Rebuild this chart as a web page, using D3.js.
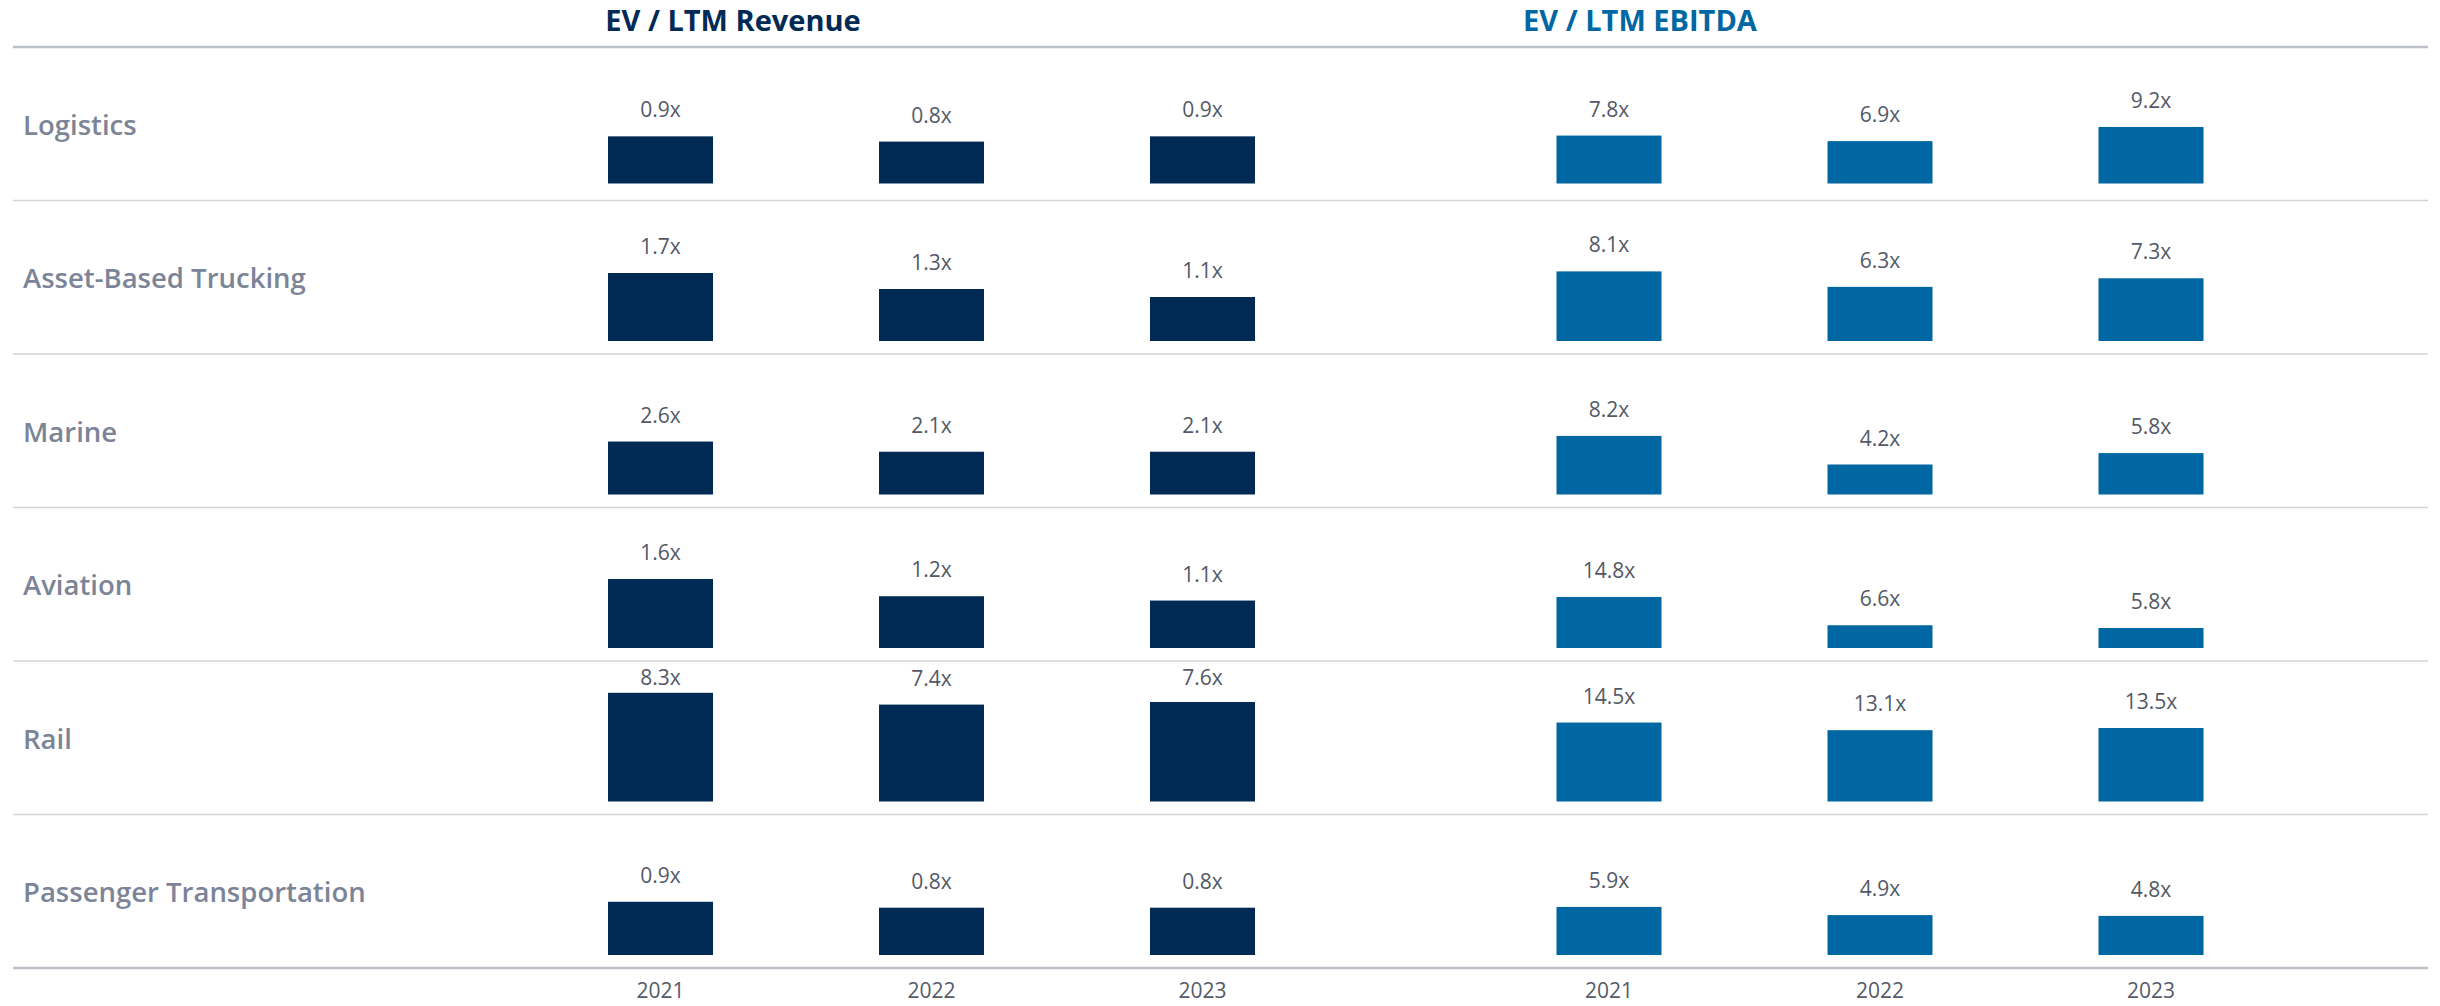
<!DOCTYPE html>
<html>
<head>
<meta charset="utf-8">
<script src="https://cdn.jsdelivr.net/npm/d3@7/dist/d3.min.js"></script>
<style>
  html, body { margin: 0; padding: 0; background: #ffffff; }
  svg { display: block; }
  text { font-family: "Open Sans", "Noto Sans", sans-serif; }
</style>
</head>
<body>
<div id="chart"></div>
<script>
// Transportation sector valuation multiples by sub-sector and year
const categories = ["Logistics", "Asset-Based Trucking", "Marine", "Aviation", "Rail", "Passenger Transportation"];
const years = ["2021", "2022", "2023"];
const panelTitles = ["EV / LTM Revenue", "EV / LTM EBITDA"];

const revenueMultiples = [
  [0.9, 0.8, 0.9],
  [1.7, 1.3, 1.1],
  [2.6, 2.1, 2.1],
  [1.6, 1.2, 1.1],
  [8.3, 7.4, 7.6],
  [0.9, 0.8, 0.8]
];
const ebitdaMultiples = [
  [7.8, 6.9, 9.2],
  [8.1, 6.3, 7.3],
  [8.2, 4.2, 5.8],
  [14.8, 6.6, 5.8],
  [14.5, 13.1, 13.5],
  [5.9, 4.9, 4.8]
];
// Each small panel has its own value axis maximum
const revenueAxisMax = [2.1, 2.75, 5.4, 2.55, 8.4, 1.86];
const ebitdaAxisMax = [17.9, 12.8, 15.4, 31.9, 20.2, 13.5];

const W = 2440, H = 1006;
const svg = d3.select("#chart").append("svg").attr("width", W).attr("height", H);
svg.append("rect").attr("width", W).attr("height", H).attr("fill", "#ffffff");

const lineX0 = 13, lineX1 = 2428;
const gridTop = 47, gridBottom = 968;
const barArea = 110;      // pixel height available to a panel's value axis
const baseOffset = 13;    // gap between bar baseline and the row's lower rule

const row = d3.scaleBand().domain(categories).range([gridTop, gridBottom]);

const panels = [
  { title: panelTitles[0], values: revenueMultiples, axisMax: revenueAxisMax,
    color: "#012a54", titleColor: "#012a54", titleX: 733,
    x: d3.scaleBand().domain(years).range([472.5, 1390.5]).paddingInner(0.6125).paddingOuter(0.5) },
  { title: panelTitles[1], values: ebitdaMultiples, axisMax: ebitdaAxisMax,
    color: "#0067a3", titleColor: "#0067a3", titleX: 1640,
    x: d3.scaleBand().domain(years).range([1421, 2339]).paddingInner(0.6125).paddingOuter(0.5) }
];

// Panel titles
svg.selectAll("text.title").data(panels).join("text")
  .attr("class", "title")
  .attr("x", d => d.titleX)
  .attr("y", 31)
  .attr("text-anchor", "middle")
  .attr("font-size", 29)
  .attr("font-weight", 700)
  .attr("fill", d => d.titleColor)
  .text(d => d.title);

// Row rules
const rules = [gridTop].concat(categories.map(c => row(c) + row.bandwidth()));
svg.selectAll("line.rule").data(rules).join("line")
  .attr("class", "rule")
  .attr("x1", lineX0).attr("x2", lineX1)
  .attr("y1", d => d).attr("y2", d => d)
  .attr("stroke", (d, i) => (i === 0 || i === rules.length - 1) ? "#bcc0c8" : "#d3d5db")
  .attr("stroke-width", (d, i) => (i === 0 || i === rules.length - 1) ? 2.5 : 1.6);

// Row labels
svg.selectAll("text.rowlabel").data(categories).join("text")
  .attr("class", "rowlabel")
  .attr("x", 23)
  .attr("y", d => row(d) + row.bandwidth() / 2 + 11)
  .attr("font-size", 27.5)
  .attr("font-weight", 600)
  .attr("fill", "#7c8497")
  .text(d => d);

// Bars and value labels, one small panel per row and metric
panels.forEach(p => {
  categories.forEach((cat, ri) => {
    const top = row(cat);
    const base = top + row.bandwidth() - (ri === 0 ? baseOffset + 4 : baseOffset);
    const y = d3.scaleLinear().domain([0, p.axisMax[ri]]).range([base, base - barArea]);
    const data = years.map((yr, i) => ({ year: yr, value: p.values[ri][i] }));
    const g = svg.append("g");
    g.selectAll("rect").data(data).join("rect")
      .attr("x", d => p.x(d.year))
      .attr("width", p.x.bandwidth())
      .attr("y", d => y(d.value))
      .attr("height", d => y(0) - y(d.value))
      .attr("fill", p.color);
    g.selectAll("text").data(data).join("text")
      .attr("x", d => p.x(d.year) + p.x.bandwidth() / 2)
      .attr("y", d => Math.max(y(d.value) - 19, top + 24))
      .attr("text-anchor", "middle")
      .attr("font-size", 21)
      .attr("fill", "#535967")
      .text(d => d.value.toFixed(1) + "x");
  });

  // Year axis along the bottom rule
  const axis = svg.append("g")
    .attr("transform", `translate(0,${gridBottom})`)
    .call(d3.axisBottom(p.x).tickSize(0).tickPadding(15));
  axis.select(".domain").remove();
  axis.selectAll("text")
    .attr("font-size", 21)
    .attr("font-family", "'Open Sans', sans-serif")
    .attr("fill", "#555b69");
});
</script>
</body>
</html>
